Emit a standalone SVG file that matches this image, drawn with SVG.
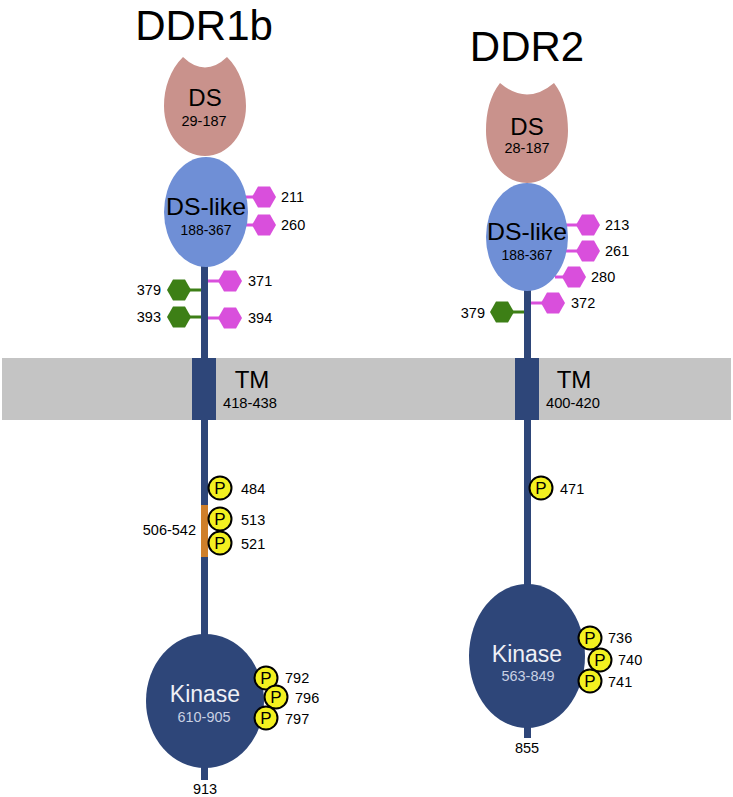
<svg xmlns="http://www.w3.org/2000/svg" width="733" height="797" viewBox="0 0 733 797">
<style>
text{font-family:"Liberation Sans",Arial,sans-serif;fill:#000}
.stem{fill:#2e4679}
.ds{fill:#c9928c}
.dsl{fill:#6f8fd6}
.kin{fill:#2e4679}
.hm{fill:#d94fdc}
.hg{fill:#3d7f16}
.lm{stroke:#d94fdc;stroke-width:3}
.lg{stroke:#3d7f16;stroke-width:3}
.p{fill:#f3f020;stroke:#000;stroke-width:2}
.pt{font-size:17px;text-anchor:middle}
.num{font-size:14.5px}
.big{font-size:24px;text-anchor:middle}
.sub{font-size:15px;text-anchor:middle}
.wk{fill:#eef0f6;font-size:23px;text-anchor:middle}
.wks{fill:#c9d1e3;font-size:15px;text-anchor:middle}
.title{font-size:42px;text-anchor:middle}
</style>
<defs>
<polygon id="hex" points="-12,0 -6,-10.5 6,-10.5 12,0 6,10.5 -6,10.5"/>
<g id="pc"><circle r="11.5" class="p"/><text y="6" class="pt">P</text></g>
</defs>
<rect id="membrane" x="2" y="358" width="729" height="62" fill="#c4c4c4"/>
<g id="connectors">
<rect class="stem" x="201" y="262" width="7" height="376"/>
<rect class="stem" x="201" y="760" width="7" height="20"/>
<rect x="201" y="505" width="7" height="52" fill="#cf7f2a"/>
<rect class="stem" x="524" y="285" width="7" height="302"/>
<rect class="stem" x="524" y="720" width="7" height="18"/>
<line class="lm" x1="244" y1="197" x2="256" y2="197"/>
<line class="lm" x1="244" y1="225" x2="256" y2="225"/>
<line class="lm" x1="208" y1="281" x2="222" y2="281"/>
<line class="lm" x1="208" y1="318" x2="222" y2="318"/>
<line class="lg" x1="188" y1="290" x2="201" y2="290"/>
<line class="lg" x1="188" y1="317" x2="201" y2="317"/>
<line class="lm" x1="564" y1="225" x2="580" y2="225"/>
<line class="lm" x1="564" y1="251" x2="580" y2="251"/>
<line class="lm" x1="555" y1="277" x2="566" y2="277"/>
<line class="lm" x1="531" y1="303" x2="545" y2="303"/>
<line class="lg" x1="510" y1="312" x2="524" y2="312"/>
</g>
<g id="ddr1b-title"><text x="204" y="40" class="title">DDR1b</text></g>
<g id="ddr2-title"><text x="527" y="61" class="title">DDR2</text></g>
<g id="ddr1b-ds">
<path class="ds" d="M183,57 Q205,78 227,57 C240,70 246,88 246,106 C246,134 228,156 205,156 C182,156 164,134 164,106 C164,88 170,70 183,57 Z"/>
<text x="205" y="106" class="big">DS</text>
<text x="204" y="126" class="sub" textLength="45" lengthAdjust="spacingAndGlyphs">29-187</text>
</g>
<g id="ddr1b-dslike">
<ellipse class="dsl" cx="206" cy="212" rx="42" ry="55"/>
<text x="206" y="215" class="big" textLength="80" lengthAdjust="spacingAndGlyphs">DS-like</text>
<text x="206" y="235" class="sub" textLength="51" lengthAdjust="spacingAndGlyphs">188-367</text>
</g>
<g id="ddr1b-glyco">
<use href="#hex" class="hm" x="264" y="197"/><text x="281" y="202" class="num">211</text>
<use href="#hex" class="hm" x="264" y="225"/><text x="281" y="230" class="num">260</text>
<use href="#hex" class="hm" x="230" y="281"/><text x="248" y="286" class="num">371</text>
<use href="#hex" class="hm" x="230" y="318"/><text x="248" y="323" class="num">394</text>
<use href="#hex" class="hg" x="179" y="290"/><text x="161" y="295" class="num" text-anchor="end">379</text>
<use href="#hex" class="hg" x="179" y="317"/><text x="161" y="322" class="num" text-anchor="end">393</text>
</g>
<g id="ddr1b-tm">
<rect class="stem" x="192" y="358" width="24" height="62"/>
<text x="252" y="388" class="big">TM</text>
<text x="250" y="408" class="sub" textLength="54" lengthAdjust="spacingAndGlyphs">418-438</text>
</g>
<g id="ddr1b-jm">
<text x="196" y="535" class="num" text-anchor="end">506-542</text>
<use href="#pc" x="220" y="488"/><text x="241" y="494" class="num">484</text>
<use href="#pc" x="220" y="519"/><text x="241" y="525" class="num">513</text>
<use href="#pc" x="220" y="543"/><text x="241" y="549" class="num">521</text>
</g>
<g id="ddr1b-kinase">
<ellipse class="kin" cx="205" cy="701" rx="59" ry="67"/>
<text x="205" y="702" class="wk">Kinase</text>
<text x="204" y="722" class="wks" textLength="53" lengthAdjust="spacingAndGlyphs">610-905</text>
<use href="#pc" x="266" y="678"/><text x="285" y="683" class="num">792</text>
<use href="#pc" x="276" y="697"/><text x="295" y="703" class="num">796</text>
<use href="#pc" x="266" y="718"/><text x="285" y="724" class="num">797</text>
<text x="205" y="794" class="num" text-anchor="middle">913</text>
</g>
<g id="ddr2-ds">
<path class="ds" d="M500,83 Q527,106 554,83 C564,96 568,112 568,131 C568,160 550,183 527,183 C504,183 486,160 486,131 C486,112 490,96 500,83 Z"/>
<text x="527" y="135" class="big">DS</text>
<text x="527" y="153" class="sub" textLength="45" lengthAdjust="spacingAndGlyphs">28-187</text>
</g>
<g id="ddr2-dslike">
<ellipse class="dsl" cx="527" cy="237" rx="41" ry="54"/>
<text x="527" y="240" class="big" textLength="80" lengthAdjust="spacingAndGlyphs">DS-like</text>
<text x="527" y="260" class="sub" textLength="51" lengthAdjust="spacingAndGlyphs">188-367</text>
</g>
<g id="ddr2-glyco">
<use href="#hex" class="hm" x="588" y="225"/><text x="605" y="230" class="num">213</text>
<use href="#hex" class="hm" x="588" y="251"/><text x="605" y="256" class="num">261</text>
<use href="#hex" class="hm" x="574" y="277"/><text x="591" y="282" class="num">280</text>
<use href="#hex" class="hm" x="553" y="303"/><text x="571" y="308" class="num">372</text>
<use href="#hex" class="hg" x="502" y="312"/><text x="485" y="318" class="num" text-anchor="end">379</text>
</g>
<g id="ddr2-tm">
<rect class="stem" x="515" y="358" width="24" height="62"/>
<text x="574" y="388" class="big">TM</text>
<text x="573" y="408" class="sub" textLength="54" lengthAdjust="spacingAndGlyphs">400-420</text>
</g>
<g id="ddr2-jm">
<use href="#pc" x="541" y="488"/><text x="560" y="494" class="num">471</text>
</g>
<g id="ddr2-kinase">
<ellipse class="kin" cx="527" cy="656" rx="58" ry="72"/>
<text x="527" y="662" class="wk">Kinase</text>
<text x="528" y="681" class="wks" textLength="53" lengthAdjust="spacingAndGlyphs">563-849</text>
<use href="#pc" x="590" y="638"/><text x="608" y="643" class="num">736</text>
<use href="#pc" x="600" y="660"/><text x="618" y="665" class="num">740</text>
<use href="#pc" x="590" y="681"/><text x="608" y="687" class="num">741</text>
<text x="527" y="753" class="num" text-anchor="middle">855</text>
</g>
</svg>
